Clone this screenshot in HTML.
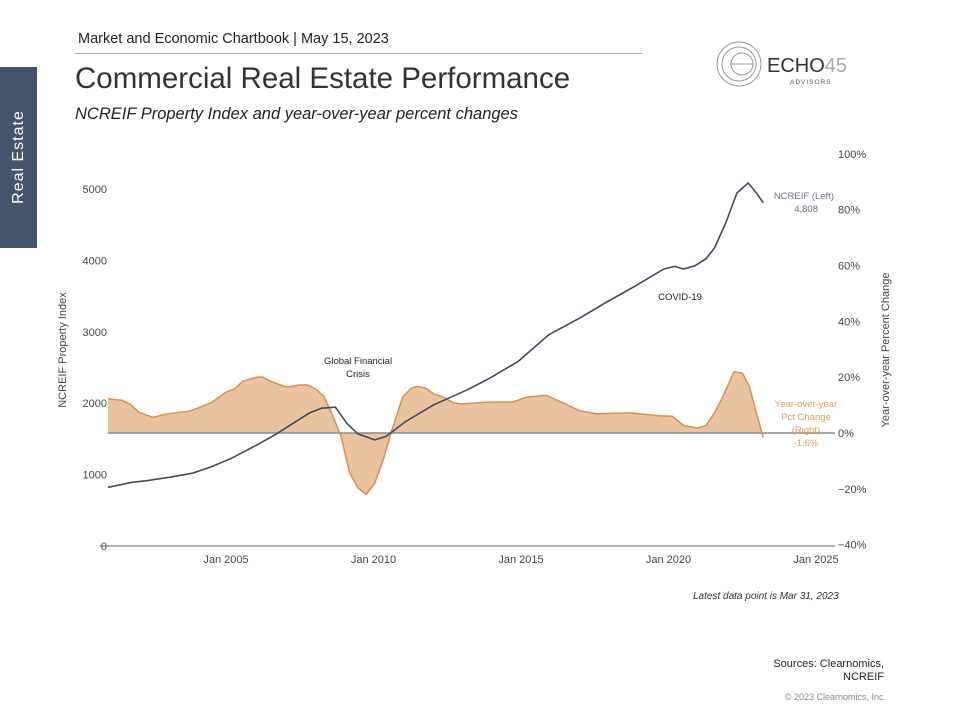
<!DOCTYPE html>
<html><head><meta charset="utf-8"><style>
body{margin:0;width:960px;height:720px;background:#fff;position:relative;overflow:hidden;font-family:"Liberation Sans",sans-serif;color:#333}
.t{position:absolute;white-space:nowrap}
</style></head><body>
<div class="t" style="left:78px;top:31px;font-size:14.5px;color:#222">Market and Economic Chartbook | May 15, 2023</div>
<div style="position:absolute;left:75px;top:53px;width:567px;height:1px;background:#aaa"></div>
<div style="position:absolute;left:0;top:67px;width:37px;height:181px;background:#45546a"></div>
<div class="t" style="left:19px;top:157px;transform:translate(-50%,-50%) rotate(-90deg);color:#fff;font-size:16px;letter-spacing:1px">Real Estate</div>
<div class="t" style="left:75px;top:62px;font-size:29.5px;color:#333">Commercial Real Estate Performance</div>
<div class="t" style="left:75px;top:105px;font-size:16.5px;font-style:italic;color:#222">NCREIF Property Index and year-over-year percent changes</div>
<svg style="position:absolute;left:712px;top:40px" width="150" height="50">
<circle cx="27" cy="24" r="22" fill="none" stroke="#999" stroke-width="1"/>
<circle cx="27" cy="24" r="17" fill="none" stroke="#999" stroke-width="1"/>
<circle cx="30" cy="24" r="11" fill="none" stroke="#999" stroke-width="1"/>
<line x1="18" y1="24" x2="41" y2="24" stroke="#999"/>
<text x="55" y="32" font-size="20" fill="#333" font-family="Liberation Sans">ECHO<tspan fill="#aaa">45</tspan></text>
<text x="78" y="44" font-size="6.5" fill="#555" letter-spacing="1" font-family="Liberation Sans">ADVISORS</text>
</svg>
<svg id="chart" style="position:absolute;left:0;top:0" width="960" height="720" font-family="Liberation Sans"></svg>
<div class="t" style="left:693px;top:591px;font-size:10px;font-style:italic;color:#333">Latest data point is Mar 31, 2023</div>
<div class="t" style="right:76px;top:658px;font-size:11px;text-align:right;color:#222;line-height:13px">Sources: Clearnomics,<br>NCREIF</div>
<div class="t" style="right:74px;top:692px;font-size:9px;color:#888">© 2023 Clearnomics, Inc.</div>
<script>
const idxYears=[2001.00,2001.77,2002.34,2003.10,2003.86,2004.52,2005.19,2006.05,2006.71,2007.28,2007.85,2008.24,2008.71,2009.09,2009.47,2010.04,2010.42,2011.09,2012.04,2013.18,2013.94,2014.90,2015.94,2016.99,2017.94,2018.89,2019.84,2020.22,2020.51,2020.89,2021.27,2021.56,2021.94,2022.32,2022.70,2022.98,2023.21];
const idxValues=[822,888,916,963,1019,1112,1229,1416,1570,1720,1869,1930,1944,1720,1570,1486,1533,1743,1977,2187,2350,2584,2958,3192,3425,3645,3879,3916,3879,3925,4023,4173,4523,4944,5084,4944,4808];
const pctYears=[2001.00,2001.48,2001.77,2002.05,2002.53,2002.91,2003.48,2003.76,2004.05,2004.52,2005.00,2005.29,2005.57,2006.05,2006.24,2006.52,2007.00,2007.19,2007.47,2007.76,2008.04,2008.33,2008.62,2008.90,2009.19,2009.47,2009.76,2010.04,2010.33,2010.61,2010.99,2011.28,2011.47,2011.76,2012.04,2012.33,2012.71,2012.99,2013.75,2014.71,2015.18,2015.85,2016.42,2016.99,2017.56,2018.70,2019.08,2019.65,2020.13,2020.51,2020.98,2021.27,2021.56,2021.84,2022.22,2022.51,2022.74,2022.98,2023.21];
const pctValues=[12.3,11.7,10.2,7.4,5.6,6.7,7.5,7.8,9,11,14.6,15.8,18.5,20,20,18.5,16.6,16.6,17.2,17.2,15.8,13,6,-1.2,-14.3,-19.7,-22,-18,-9.6,0.6,12.9,16,16.7,16.1,14,13,10.8,10.4,11,11.1,12.8,13.5,10.8,8,6.9,7.2,6.8,6.2,6,2.7,1.8,2.7,7.2,13,21.9,21.4,16.7,7.2,-1.6];
const leftTicks=[0,1000,2000,3000,4000,5000];
const rightTicks=[-40,-20,0,20,40,60,80,100];
const xTicks=[2005,2010,2015,2020,2025];
const xTickLabels=["Jan 2005","Jan 2010","Jan 2015","Jan 2020","Jan 2025"];
const NS='http://www.w3.org/2000/svg',svg=document.getElementById('chart');
const X=y=>108+(y-2001)*29.5, YL=v=>546-v*0.0714, YR=p=>433-p*2.7925;
function mk(t,a,txt){const e=document.createElementNS(NS,t);for(const k in a)e.setAttribute(k,a[k]);if(txt!==undefined)e.textContent=txt;svg.appendChild(e);return e;}
let d='M'+X(pctYears[0])+','+YR(0);
pctYears.forEach((y,i)=>d+=' L'+X(y).toFixed(1)+','+YR(pctValues[i]).toFixed(1));
d+=' L'+X(pctYears[pctYears.length-1])+','+YR(0)+'Z';
let a=mk('path',{d:d,fill:'#eac3a0',stroke:'none'});


let zl=mk('line',{x1:108,x2:835,y1:YR(0),y2:YR(0),stroke:'#8a8a8a','stroke-width':1.5});


let pl=mk('polyline',{points:pctYears.map((y,i)=>X(y).toFixed(1)+','+YR(pctValues[i]).toFixed(1)).join(' '),fill:'none',stroke:'#d98f4e','stroke-width':1.5});


let il=mk('polyline',{points:idxYears.map((y,i)=>X(y).toFixed(1)+','+YL(idxValues[i]).toFixed(1)).join(' '),fill:'none',stroke:'#3e4b5c','stroke-width':1.6,'stroke-linejoin':'round'});


let ax=mk('line',{x1:100,x2:835,y1:546,y2:546,stroke:'#999','stroke-width':1.5});


leftTicks.forEach(v=>{const t=mk('text',{x:107,y:YL(v)+4,'text-anchor':'end','font-size':11,fill:'#444'},v);

});
rightTicks.forEach(v=>{const t=mk('text',{x:838,y:YR(v)+4,'font-size':11,fill:'#444'},(v<0?'\u2212':'')+Math.abs(v)+'%');

});
xTicks.forEach((v,i)=>{const t=mk('text',{x:X(v),y:563,'text-anchor':'middle','font-size':11,fill:'#444'},xTickLabels[i]);

});
let lt=mk('text',{x:0,y:0,transform:'translate(66,350) rotate(-90)','text-anchor':'middle','font-size':11,fill:'#444'},'NCREIF Property Index');


let rt=mk('text',{x:0,y:0,transform:'translate(889,350) rotate(-90)','text-anchor':'middle','font-size':11,fill:'#444'},'Year-over-year Percent Change');


function lab(name,lines,x,y,col,anchor){lines.forEach((s,i)=>{const t=mk('text',{x:x,y:y+i*13,'text-anchor':anchor,'font-size':9.5,fill:col},s);

});}
lab('gfc-annotation',['Global Financial','Crisis'],358,364,'#222','middle');
lab('covid-annotation',['COVID-19'],680,300,'#222','middle');
lab('ncreif-series-label',['NCREIF (Left)'],834,199,'#6a7584','end');
lab('ncreif-last-value',['4,808'],818,212,'#6a7584','end');
lab('pct-series-label',['Year-over-year','Pct Change','(Right)','-1.6%'],806,407,'#e0a060','middle');
</script>
</body></html>
